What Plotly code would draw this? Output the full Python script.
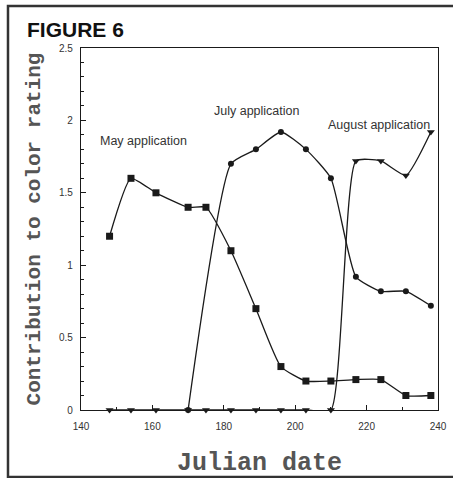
import plotly.graph_objects as go

# Julian dates of sampling
may_dates = [148, 154, 161, 170, 175, 182, 189, 196, 203, 210, 217, 224, 231, 238]
may_vals = [1.2, 1.6, 1.5, 1.4, 1.4, 1.1, 0.7, 0.3, 0.2, 0.2, 0.21, 0.21, 0.1, 0.1]

july_dates = [170, 182, 189, 196, 203, 210, 217, 224, 231, 238]
july_vals = [0, 1.7, 1.8, 1.92, 1.8, 1.6, 0.92, 0.82, 0.82, 0.72]

aug_dates = [148, 154, 161, 170, 175, 182, 189, 196, 203, 210, 217, 224, 231, 238]
aug_vals = [0, 0, 0, 0, 0, 0, 0, 0, 0, 0, 1.72, 1.72, 1.62, 1.92]

labels = ["May application", "July application", "August application"]
label_x = [157.6, 189.3, 223.5]
label_y = [1.86, 2.065, 1.97]

ink = "#1a1a1a"
fig = go.Figure()
fig.add_trace(go.Scatter(x=july_dates, y=july_vals, mode="lines+markers", cliponaxis=False,
                         line=dict(color=ink, width=1.3, shape="spline", smoothing=0.5),
                         marker=dict(symbol="circle", size=6, color=ink)))
fig.add_trace(go.Scatter(x=may_dates, y=may_vals, mode="lines+markers", cliponaxis=False,
                         line=dict(color=ink, width=1.3, shape="spline", smoothing=0.5),
                         marker=dict(symbol="square", size=7, color=ink)))
fig.add_trace(go.Scatter(x=aug_dates, y=aug_vals, mode="lines+markers", cliponaxis=False,
                         line=dict(color=ink, width=1.3, shape="spline", smoothing=0.5),
                         marker=dict(symbol="triangle-down", size=7, color=ink)))

for t, x, y in zip(labels, label_x, label_y):
    fig.add_annotation(x=x, y=y, text=t, showarrow=False,
                       font=dict(family="Liberation Sans, Arial", size=12.5, color="#333"))

fig.add_annotation(xref="paper", yref="paper", x=-0.157, y=1.052, xanchor="left", yanchor="middle",
                   text="<b>FIGURE 6</b>", showarrow=False,
                   font=dict(family="Liberation Sans, Arial", size=21, color="#111"))

# outer frame
fig.add_shape(type="rect", xref="paper", yref="paper", x0=-0.2045, x1=1.1, y0=-0.185, y1=1.116,
              line=dict(color="#333", width=2.5), layer="below")

fig.update_layout(
    width=453, height=478,
    margin=dict(l=81, r=15, t=48, b=68),
    paper_bgcolor="white", plot_bgcolor="white",
    showlegend=False,
    xaxis=dict(range=[140, 240], dtick=20, tick0=140, ticks="inside", ticklen=5, tickcolor=ink,
               showline=True, linecolor=ink, linewidth=1.2, mirror=True, showgrid=False, zeroline=False,
               automargin=False,
               tickfont=dict(family="Liberation Sans, Arial", size=10, color="#333"),
               ticklabelstandoff=7,
               minor=dict(dtick=10, ticks="inside", ticklen=3, tickcolor=ink),
               title=dict(text="Julian date", standoff=25,
                          font=dict(family="Liberation Mono", size=25, color="#555", weight="bold"))),
    yaxis=dict(range=[0, 2.5], dtick=0.5, ticks="inside", ticklen=5, tickcolor=ink,
               showline=True, linecolor=ink, linewidth=1.2, mirror=True, showgrid=False, zeroline=False,
               automargin=False,
               tickfont=dict(family="Liberation Sans, Arial", size=10, color="#333"),
               ticklabelstandoff=5,
               minor=dict(dtick=0.1, ticks="inside", ticklen=3, tickcolor=ink),
               title=dict(text="Contribution to color rating", standoff=12,
                          font=dict(family="Liberation Mono", size=21, color="#555", weight="bold"))),
)

fig.write_html("out.html", config={"displayModeBar": False},
               post_script="document.body.style.margin='0';document.body.style.overflow='hidden';")
